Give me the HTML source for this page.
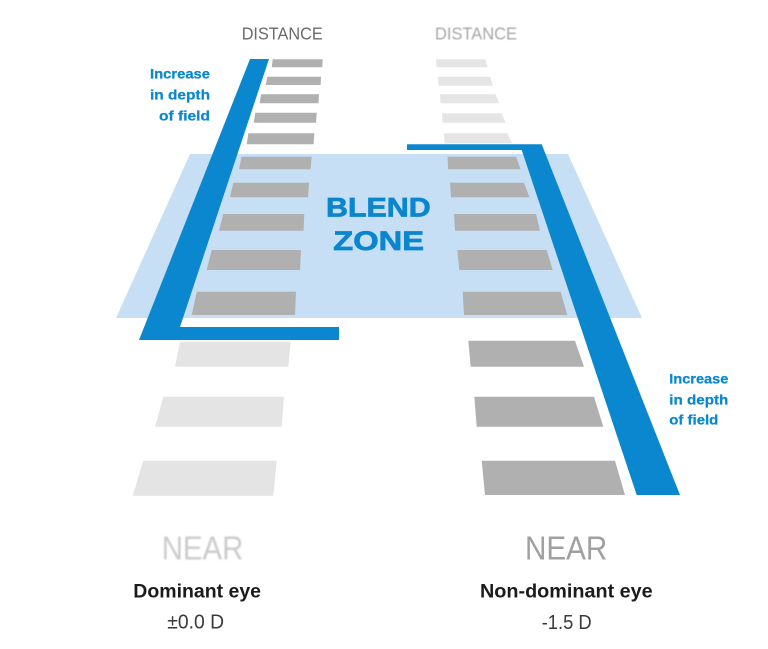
<!DOCTYPE html>
<html><head><meta charset="utf-8"><style>
html,body{margin:0;padding:0;background:#fff;}
svg{display:block;}
text{font-family:"Liberation Sans",Arial,sans-serif;}
</style></head><body>
<svg width="768" height="649" viewBox="0 0 768 649" xmlns="http://www.w3.org/2000/svg">
<defs>
<filter id="b1" x="-10%" y="-30%" width="120%" height="160%"><feGaussianBlur stdDeviation="0.9"/></filter>
<filter id="b2" x="-10%" y="-30%" width="120%" height="160%"><feGaussianBlur stdDeviation="0.6"/></filter>
</defs>
<rect width="768" height="649" fill="#fff"/>

<!-- blend zone -->
<polygon points="190,154 568,154 642,318 116,318" fill="#c6dff4"/>

<!-- left ladder bars -->
<g fill="#b0b0b0">
<polygon points="272.7,59.3 322.7,59.3 322.3,67.3 271.7,67.3"/>
<polygon points="267.3,76.7 321,76.7 320.6,85 265.7,85"/>
<polygon points="261,94.3 319,94.3 318.5,103.3 259.7,103.3"/>
<polygon points="255.3,112.7 316.7,112.7 316.1,122.7 253.7,122.7"/>
<polygon points="248.3,133.3 314.3,133.3 313.6,144.3 246.7,144.3"/>
<polygon points="241.5,156.7 311.7,156.7 310.5,169.3 239,169.3"/>
<polygon points="233.3,182.7 309,182.7 308,197.3 230,197.3"/>
<polygon points="223.3,214 304.3,214 303.5,230.7 219,230.7"/>
<polygon points="211.7,250 301,250 300,270 206.7,270"/>
<polygon points="196.7,291.7 296,291.7 295,315 191.7,315"/>
</g>
<g fill="#e4e4e4">
<polygon points="180,341.7 290.7,341.7 288.3,366.7 175,366.7"/>
<polygon points="163.3,396.7 284,396.7 281.7,426.7 155,426.7"/>
<polygon points="143.3,460.7 276.7,460.7 273.3,495.7 132.7,495.7"/>
</g>

<!-- right ladder bars -->
<g fill="#e5e5e5">
<polygon points="436,59.3 485.5,59.3 487.5,67.3 436.5,67.3"/>
<polygon points="438,76.7 490,76.7 493,85.7 438.5,85.7"/>
<polygon points="440,94.3 495.5,94.3 499,103.3 440.5,103.3"/>
<polygon points="442,113.3 501.5,113.3 505.5,122.7 442.5,122.7"/>
<polygon points="444,133.3 507.5,133.3 512,143.3 444.5,143.3"/>
</g>
<g fill="#b0b0b0">
<polygon points="447.5,156.7 516,156.7 520.5,169.3 448,169.3"/>
<polygon points="450,182.7 524,182.7 529.5,197.3 451,197.3"/>
<polygon points="454,214 536,214 540,230.7 455,230.7"/>
<polygon points="457.3,250 546.7,250 552.7,270 459.3,270"/>
<polygon points="462.7,291.7 560.7,291.7 567.3,315 464,315"/>
<polygon points="468.3,340.7 575,340.7 584,366.7 470.7,366.7"/>
<polygon points="474.3,396.7 594,396.7 603.3,426.7 476.7,426.7"/>
<polygon points="481.7,460.7 615,460.7 625,495 485,495"/>
</g>

<!-- blue bands -->
<polygon points="250,59 269,59 180,327 339,327 339,340 139,340" fill="#0a87cf"/>
<polygon points="407,144.3 541.7,144.3 680,495 636.7,495 521.7,150 407,150" fill="#0a87cf"/>

<!-- BLEND ZONE -->
<g font-size="27" font-weight="bold" fill="#0b86ce" stroke="#0b86ce" stroke-width="0.7">
<text x="326" y="216.7" textLength="104.7" lengthAdjust="spacingAndGlyphs">BLEND</text>
<text x="333.3" y="250" textLength="90.7" lengthAdjust="spacingAndGlyphs">ZONE</text>
</g>

<!-- DISTANCE labels -->
<text x="241.7" y="39.3" font-size="17.5" fill="#6b6b6b" textLength="81" lengthAdjust="spacingAndGlyphs">DISTANCE</text>
<text x="435" y="39.3" font-size="17.5" fill="#a6a6a6" textLength="82" lengthAdjust="spacingAndGlyphs" filter="url(#b2)">DISTANCE</text>

<!-- Increase labels -->
<g font-size="13.5" font-weight="bold" fill="#0b87cf" stroke="#0b87cf" stroke-width="0.25">
<text x="150" y="78.3" textLength="60" lengthAdjust="spacingAndGlyphs">Increase</text>
<text x="150" y="99.5" textLength="60" lengthAdjust="spacingAndGlyphs">in depth</text>
<text x="159" y="120.5" textLength="51" lengthAdjust="spacingAndGlyphs">of field</text>
<text x="669.3" y="383.3" textLength="59" lengthAdjust="spacingAndGlyphs">Increase</text>
<text x="669.3" y="404.5" textLength="59" lengthAdjust="spacingAndGlyphs">in depth</text>
<text x="669.3" y="424.5" textLength="49" lengthAdjust="spacingAndGlyphs">of field</text>
</g>

<!-- NEAR -->
<text x="161.7" y="559.3" font-size="33" fill="#cbcbcb" textLength="81.6" lengthAdjust="spacingAndGlyphs" filter="url(#b1)">NEAR</text>
<text x="525" y="559.3" font-size="33" fill="#a0a0a0" textLength="82.3" lengthAdjust="spacingAndGlyphs">NEAR</text>

<!-- eye labels -->
<text x="133.3" y="597.3" font-size="19" font-weight="bold" fill="#1b1b1b" textLength="127.7" lengthAdjust="spacingAndGlyphs">Dominant eye</text>
<text x="480" y="597.3" font-size="19" font-weight="bold" fill="#1b1b1b" textLength="172.7" lengthAdjust="spacingAndGlyphs">Non-dominant eye</text>
<text x="167.3" y="628.3" font-size="20" fill="#3a3a3a" textLength="56.7" lengthAdjust="spacingAndGlyphs">±0.0 D</text>
<text x="541.7" y="629" font-size="20" fill="#3a3a3a" textLength="50" lengthAdjust="spacingAndGlyphs">-1.5 D</text>
</svg>
</body></html>
